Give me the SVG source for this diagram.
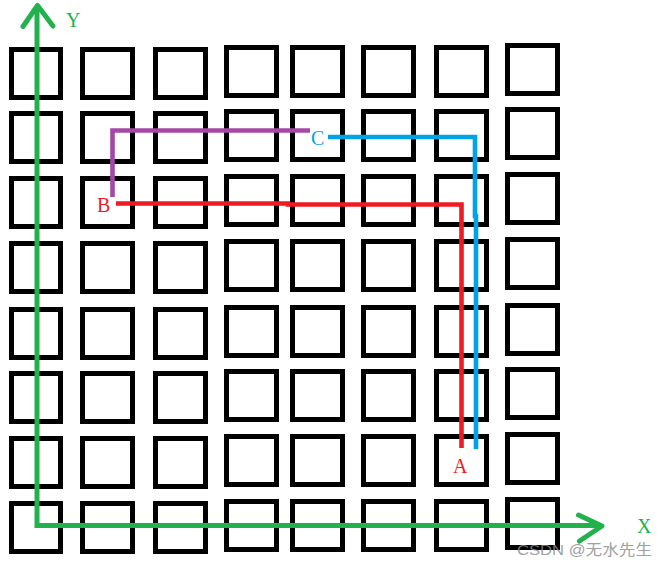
<svg xmlns="http://www.w3.org/2000/svg" width="668" height="567" viewBox="0 0 668 567">
<style>
.cell{fill:none;stroke:#000;stroke-width:5}
.ax{fill:none;stroke:#22B14C;stroke-width:5;stroke-linejoin:miter}
.head{fill:none;stroke:#22B14C;stroke-width:5;stroke-linecap:round;stroke-linejoin:round}
.path{fill:none;stroke-width:4.6;stroke-linecap:butt;stroke-linejoin:miter}
.lbl{font-family:"Liberation Serif","Times New Roman",serif;font-size:20px}
.wm{font-family:"Liberation Sans","Noto Sans CJK SC",sans-serif;font-size:15px;fill:#8a8a8a;opacity:0.8}
</style>
<rect width="668" height="567" fill="#fff"/>
<g id="grid">
<g id="col1">
<rect class="cell" x="11.5" y="49.5" width="49" height="48"/>
<rect class="cell" x="11.5" y="113.5" width="49" height="48"/>
<rect class="cell" x="11.5" y="178.5" width="49" height="48"/>
<rect class="cell" x="11.5" y="243.5" width="49" height="48"/>
<rect class="cell" x="11.5" y="309.5" width="49" height="48"/>
<rect class="cell" x="11.5" y="373.5" width="49" height="48"/>
<rect class="cell" x="11.5" y="438.5" width="49" height="48"/>
<rect class="cell" x="11.5" y="503.5" width="49" height="48"/>
</g>
<g id="col2">
<rect class="cell" x="82.5" y="49.5" width="50" height="48"/>
<rect class="cell" x="82.5" y="113.5" width="50" height="48"/>
<rect class="cell" x="82.5" y="178.5" width="50" height="48"/>
<rect class="cell" x="82.5" y="243.5" width="50" height="48"/>
<rect class="cell" x="82.5" y="309.5" width="50" height="48"/>
<rect class="cell" x="82.5" y="373.5" width="50" height="48"/>
<rect class="cell" x="82.5" y="438.5" width="50" height="48"/>
<rect class="cell" x="82.5" y="503.5" width="50" height="48"/>
</g>
<g id="col3">
<rect class="cell" x="155.5" y="49.5" width="50" height="48"/>
<rect class="cell" x="155.5" y="113.5" width="50" height="48"/>
<rect class="cell" x="155.5" y="178.5" width="50" height="48"/>
<rect class="cell" x="155.5" y="243.5" width="50" height="48"/>
<rect class="cell" x="155.5" y="309.5" width="50" height="48"/>
<rect class="cell" x="155.5" y="373.5" width="50" height="48"/>
<rect class="cell" x="155.5" y="438.5" width="50" height="48"/>
<rect class="cell" x="155.5" y="503.5" width="50" height="48"/>
</g>
<g id="col4">
<rect class="cell" x="226.5" y="47.5" width="50" height="48"/>
<rect class="cell" x="226.5" y="111.5" width="50" height="48"/>
<rect class="cell" x="226.5" y="176.5" width="50" height="48"/>
<rect class="cell" x="226.5" y="241.5" width="50" height="48"/>
<rect class="cell" x="226.5" y="307.5" width="50" height="48"/>
<rect class="cell" x="226.5" y="371.5" width="50" height="48"/>
<rect class="cell" x="226.5" y="436.5" width="50" height="48"/>
<rect class="cell" x="226.5" y="501.5" width="50" height="48"/>
</g>
<g id="col5">
<rect class="cell" x="292.5" y="47.5" width="50" height="48"/>
<rect class="cell" x="292.5" y="111.5" width="50" height="48"/>
<rect class="cell" x="292.5" y="176.5" width="50" height="48"/>
<rect class="cell" x="292.5" y="241.5" width="50" height="48"/>
<rect class="cell" x="292.5" y="307.5" width="50" height="48"/>
<rect class="cell" x="292.5" y="371.5" width="50" height="48"/>
<rect class="cell" x="292.5" y="436.5" width="50" height="48"/>
<rect class="cell" x="292.5" y="501.5" width="50" height="48"/>
</g>
<g id="col6">
<rect class="cell" x="363.5" y="47.5" width="50" height="48"/>
<rect class="cell" x="363.5" y="111.5" width="50" height="48"/>
<rect class="cell" x="363.5" y="176.5" width="50" height="48"/>
<rect class="cell" x="363.5" y="241.5" width="50" height="48"/>
<rect class="cell" x="363.5" y="307.5" width="50" height="48"/>
<rect class="cell" x="363.5" y="371.5" width="50" height="48"/>
<rect class="cell" x="363.5" y="436.5" width="50" height="48"/>
<rect class="cell" x="363.5" y="501.5" width="50" height="48"/>
</g>
<g id="col7">
<rect class="cell" x="436.5" y="47.5" width="50" height="48"/>
<rect class="cell" x="436.5" y="111.5" width="50" height="48"/>
<rect class="cell" x="436.5" y="176.5" width="50" height="48"/>
<rect class="cell" x="436.5" y="241.5" width="50" height="48"/>
<rect class="cell" x="436.5" y="307.5" width="50" height="48"/>
<rect class="cell" x="436.5" y="371.5" width="50" height="48"/>
<rect class="cell" x="436.5" y="436.5" width="50" height="48"/>
<rect class="cell" x="436.5" y="501.5" width="50" height="48"/>
</g>
<g id="col8">
<rect class="cell" x="507.5" y="45.5" width="50" height="48"/>
<rect class="cell" x="507.5" y="109.5" width="50" height="48"/>
<rect class="cell" x="507.5" y="174.5" width="50" height="48"/>
<rect class="cell" x="507.5" y="239.5" width="50" height="48"/>
<rect class="cell" x="507.5" y="305.5" width="50" height="48"/>
<rect class="cell" x="507.5" y="369.5" width="50" height="48"/>
<rect class="cell" x="507.5" y="434.5" width="50" height="48"/>
<rect class="cell" x="507.5" y="499.5" width="50" height="48"/>
</g>
</g>
<g id="connectors">
<g id="axes">
<path class="ax" d="M37,6 V525.5 H601"/>
<path class="head" d="M23,26.5 L37.5,5.5 L53,26"/>
<path class="head" d="M578.5,515 L602,526 L579.5,541"/>
</g>
<path id="path-BC" class="path" stroke="#A349A4" d="M112.5,197 V130.5 H310"/>
<path id="path-BA" class="path" stroke="#ED1C24" d="M116,203.5 H288 V204.5 H461.5 V448"/>
<path id="path-CA" class="path" stroke="#00A2E8" d="M328,137 H475 V216 H476 V449"/>
</g>
<g id="label-Y"><text class="lbl" x="66" y="27" fill="#22B14C">Y</text></g>
<g id="label-X"><text class="lbl" x="637" y="533" fill="#22B14C">X</text></g>
<g id="node-B"><text class="lbl" x="97" y="212" fill="#ED1C24">B</text></g>
<g id="node-C"><text class="lbl" x="311" y="145" fill="#00A2E8">C</text></g>
<g id="node-A"><text class="lbl" x="453" y="473" fill="#ED1C24">A</text></g>
<text class="wm" x="517" y="555" textLength="135" lengthAdjust="spacingAndGlyphs">CSDN @无水先生</text>
</svg>
